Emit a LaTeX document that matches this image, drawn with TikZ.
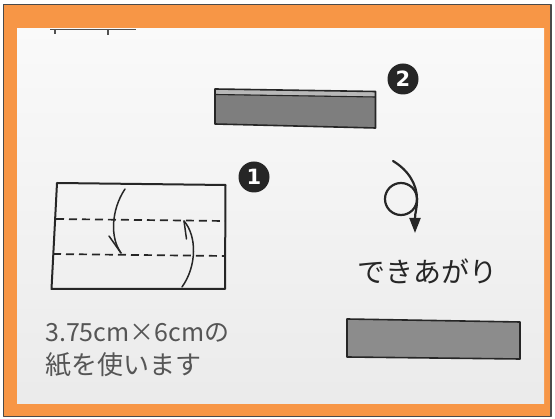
\documentclass[tikz,border=0pt]{standalone}
\usepackage{fontspec}
\newfontfamily\jpfont{Noto Sans CJK JP}
\newfontfamily\markfont{DejaVu Sans}
\usetikzlibrary{arrows.meta}
\definecolor{frameorange}{HTML}{F79646}
\definecolor{framedark}{HTML}{4A4A4A}
\definecolor{inkgray}{HTML}{555555}
\definecolor{ink}{HTML}{262626}
\definecolor{stripfill}{HTML}{7E7E7E}
\definecolor{stripband}{HTML}{B8B8B8}
\definecolor{donefill}{HTML}{8C8C8C}
\tikzset{
  fold/.style={line width=2pt, draw=ink},
  dashfold/.style={line width=1.7pt, draw=ink, dash pattern=on 8pt off 5pt},
  arrowline/.style={line width=1.5pt, draw=ink, line cap=round},
  loopline/.style={line width=2.2pt, draw=ink, line cap=round},
  stepmark/.style={circle, fill=ink, inner sep=0pt, minimum size=31pt, text=white, font=\markfont\bfseries\fontsize{21}{21}\selectfont},
  strip/.style={line width=1.6pt, draw=ink},
  caption/.style={anchor=west, text=inkgray, inner sep=0pt},
}
\begin{document}
\begin{tikzpicture}[x=1pt, y=-1pt, line join=round]
\useasboundingbox (0,0) rectangle (555,419);
\fill[white] (0,0) rectangle (555,419);
% frame
\draw[line width=1.5pt, draw=framedark, fill=frameorange] (3.5,4.5) rectangle (551,416.5);
% paper
\shade[top color=gray!4, bottom color=gray!16] (17,29) rectangle (544,404);
% cut-off fragment at top
\draw[line width=1.2pt, draw=ink!80] (50,29.5) -- (136,29.5);
\draw[line width=1.2pt, draw=ink!80] (55,29.5) -- (55,34);
\draw[line width=1.2pt, draw=ink!80] (108,29.5) -- (108,35);

% step 1 : paper with two fold lines
\coordinate (p1) at (57,183);
\coordinate (p2) at (225.5,185);
\coordinate (p3) at (225,289);
\coordinate (p4) at (51.5,289);
\draw[fold] (p1) -- (p2) -- (p3) -- (p4) -- cycle;
\coordinate (d1a) at (56,219);
\coordinate (d1b) at (225,221);
\coordinate (d2a) at (53,254);
\coordinate (d2b) at (225,256);
\draw[dashfold] (d1a) -- (d1b);
\draw[dashfold] (d2a) -- (d2b);
% down fold arrow
\coordinate (a1s) at (125,189);
\coordinate (a1t) at (121,253);
\coordinate (a1b) at (109,236);
\draw[arrowline] (a1s) .. controls (111,210) and (110,238) .. (a1t);
\draw[arrowline] (a1b) -- (a1t);
% up fold arrow
\coordinate (a2s) at (182,287);
\coordinate (a2t) at (184,221);
\coordinate (a2b) at (186.5,239);
\draw[arrowline] (a2s) .. controls (197,266) and (197,236) .. (a2t);
\draw[arrowline] (a2b) -- (a2t);
\node[stepmark] (m1) at (254,177) {1};

% step 2 : folded strip
\coordinate (s1) at (215,89);
\coordinate (s2) at (375.5,91.5);
\coordinate (s3) at (375.5,128);
\coordinate (s4) at (215,124);
\fill[stripfill] (s1) -- (s2) -- (s3) -- (s4) -- cycle;
\fill[stripband] (215,89) -- (375.5,91.5) -- (375.5,96.5) -- (215,94) -- cycle;
\draw[line width=1.1pt, draw=ink] (215,94.5) -- (375.5,97);
\draw[strip] (s1) -- (s2) -- (s3) -- (s4) -- cycle;
\node[stepmark] (m2) at (403,79) {2};

% turn-over symbol
\coordinate (t0) at (393,161);
\coordinate (tr) at (417,199);
\coordinate (ttip) at (415,233);
\draw[loopline] (401,199) circle[radius=16];
\draw[loopline] (t0) .. controls (408,170) and (417,184) .. (tr);
\draw[loopline, -{Triangle[length=15pt, width=11pt]}] (tr) .. controls (417,210) and (415,212) .. (ttip);

\node[text=ink, inner sep=0pt] (done) at (427,271) {\jpfont\fontsize{28}{28}\selectfont できあがり};

% finished strip
\fill[donefill] (347,319) -- (520,322) -- (520,359) -- (347,357) -- cycle;
\draw[strip] (347,319) -- (520,322) -- (520,359) -- (347,357) -- cycle;

% caption
\node[caption] (cap1) at (45,333) {\jpfont\fontsize{25}{25}\selectfont 3.75cm×6cmの};
\node[caption] (cap2) at (45,365) {\jpfont\fontsize{26}{26}\selectfont 紙を使います};
\end{tikzpicture}
\end{document}
